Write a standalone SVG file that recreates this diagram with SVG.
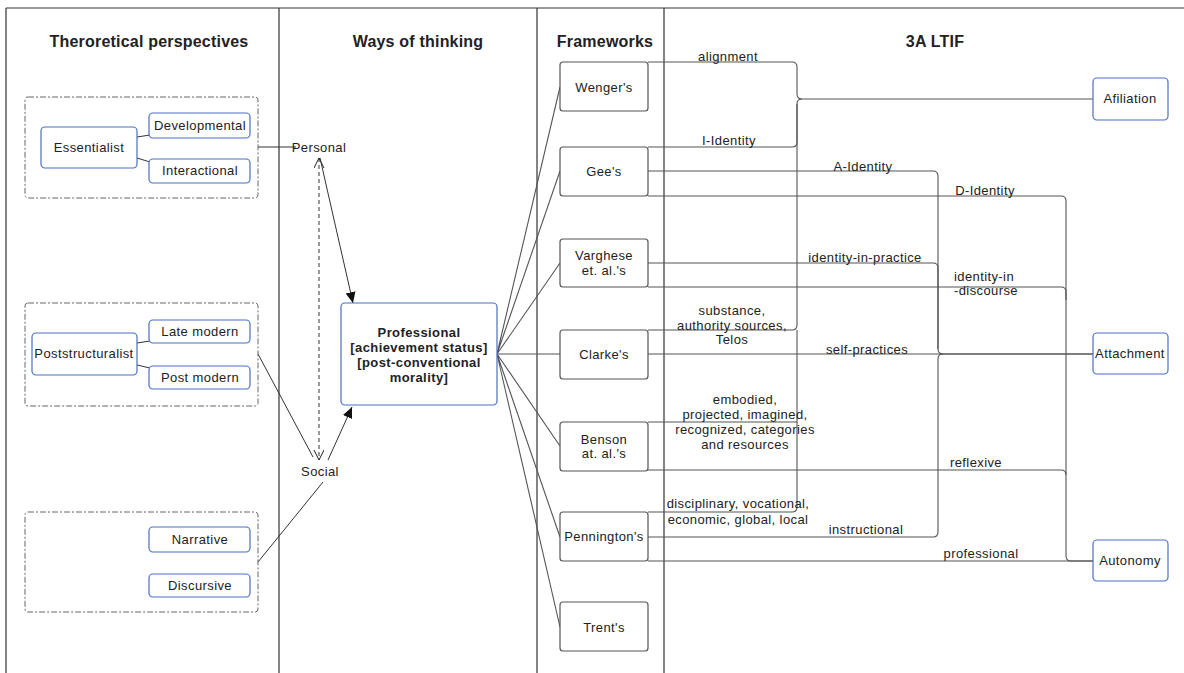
<svg xmlns="http://www.w3.org/2000/svg" width="1184" height="673" viewBox="0 0 1184 673">
<defs>
<style>
text{font-family:"Liberation Sans",Arial,sans-serif;fill:#222;}
.h{font-size:16px;font-weight:bold;text-anchor:middle;letter-spacing:0.2px;}
.n{font-size:13px;text-anchor:middle;letter-spacing:0.4px;}
.l{font-size:13px;text-anchor:middle;letter-spacing:0.4px;}
.b{font-size:13px;font-weight:bold;text-anchor:middle;letter-spacing:0.4px;}
.frame{stroke:#333;stroke-width:1.2;fill:none;}
.blue{fill:#fff;stroke:#4a6fc4;stroke-width:1.2;}
.gray{fill:#fff;stroke:#555;stroke-width:1.2;}
.grp{fill:none;stroke:#666;stroke-width:1;stroke-dasharray:6 2 2 2;}
.c{fill:none;stroke:#333;stroke-width:1;}
.cg{fill:none;stroke:#555;stroke-width:1.1;}
</style>
<marker id="fa" markerWidth="12" markerHeight="12" refX="11" refY="5" orient="auto" markerUnits="userSpaceOnUse"><path d="M0,0 L11,5 L0,10 Z" fill="#111"/></marker>
<marker id="oa" markerWidth="12" markerHeight="12" refX="10" refY="5" orient="auto-start-reverse" markerUnits="userSpaceOnUse"><path d="M0,0 L10,5 L0,10" fill="none" stroke="#222" stroke-width="1"/></marker>
</defs>
<rect width="1184" height="673" fill="#fff"/>

<g id="frame">
<path class="frame" d="M6,8 H1184 M6,8 V673 M279,8 V673 M537,8 V673 M664,8 V673"/>
<text class="h" x="149" y="47">Theroretical perspectives</text>
<text class="h" x="418" y="47">Ways of thinking</text>
<text class="h" x="605" y="47">Frameworks</text>
<text class="h" x="935" y="47">3A LTIF</text>
</g>

<g id="connectors">
<!-- left internal -->
<path class="c" d="M137,137 L150,135 M137,158 L150,162 M137,343 L150,341 M137,365 L150,368"/>
<path class="c" d="M258,147 H296"/>
<path class="c" d="M258,354 L313,457"/>
<path class="c" d="M258,562 L323,482"/>
<path class="c" d="M319,158 V460" stroke-dasharray="4 3" marker-start="url(#oa)" marker-end="url(#oa)"/>
<path class="c" d="M320,158 L353,303" marker-end="url(#fa)"/>
<path class="c" d="M328,460 L352,407" marker-end="url(#fa)"/>
<!-- professional to frameworks -->
<path class="cg" d="M497,354 L560,87 M497,354 L560,171 M497,354 L560,263 M497,354 L560,354 M497,354 L560,446 M497,354 L560,537 M497,354 L560,627"/>
<!-- to Afiliation -->
<path class="cg" d="M648,62 H792 Q797,62 797,67 V94 Q797,99 802,99 H1093"/>
<path class="cg" d="M648,147 H792 Q797,147 797,142 V104 Q797,99 802,99"/>
<path class="cg" d="M648,330 H792 Q797,330 797,325 V104"/>
<path class="cg" d="M648,422 H797 V330"/>
<path class="cg" d="M648,512 H792 Q797,512 797,507 V422"/>
<!-- to Attachment -->
<path class="cg" d="M648,171 H933 Q938,171 938,176 V349 Q938,354 943,354 H1093"/>
<path class="cg" d="M648,263 H933 Q938,263 938,268 V349"/>
<path class="cg" d="M648,354 H1093"/>
<path class="cg" d="M648,537 H933 Q938,537 938,532 V359 Q938,354 943,354"/>
<!-- to Autonomy -->
<path class="cg" d="M648,196 H1061 Q1066,196 1066,201 V556 Q1066,561 1071,561 H1093"/>
<path class="cg" d="M648,287 H1061 Q1066,287 1066,292 V300"/>
<path class="cg" d="M648,470 H1061 Q1066,470 1066,475"/>
<path class="cg" d="M648,561 H1093"/>
<!-- labels -->
<text class="l" x="728" y="61">alignment</text>
<text class="l" x="729" y="145">I-Identity</text>
<text class="l" x="863" y="171">A-Identity</text>
<text class="l" x="985" y="195">D-Identity</text>
<text class="l" x="865" y="262">identity-in-practice</text>
<text class="l" x="984" y="281">identity-in</text>
<text class="l" x="986" y="295">-discourse</text>
<text class="l" x="732" y="315">substance,</text>
<text class="l" x="732" y="330">authority sources,</text>
<text class="l" x="732" y="344">Telos</text>
<text class="l" x="867" y="354">self-practices</text>
<text class="l" x="745" y="404">embodied,</text>
<text class="l" x="745" y="419">projected, imagined,</text>
<text class="l" x="745" y="434">recognized, categories</text>
<text class="l" x="745" y="449">and resources</text>
<text class="l" x="976" y="467">reflexive</text>
<text class="l" x="738" y="508">disciplinary, vocational,</text>
<text class="l" x="738" y="524">economic, global, local</text>
<text class="l" x="866" y="534">instructional</text>
<text class="l" x="981" y="558">professional</text>
</g>

<g id="group-essentialist">
<rect class="grp" x="25" y="97" width="233" height="101" rx="3"/>
</g>
<g id="essentialist"><rect class="blue" x="41" y="127" width="96" height="41" rx="4"/><text class="n" x="89" y="152">Essentialist</text></g>
<g id="developmental"><rect class="blue" x="149" y="113" width="101" height="25" rx="4"/><text class="n" x="200" y="130">Developmental</text></g>
<g id="interactional"><rect class="blue" x="149" y="159" width="101" height="24" rx="4"/><text class="n" x="200" y="175">Interactional</text></g>

<g id="group-poststructuralist">
<rect class="grp" x="25" y="303" width="233" height="103" rx="3"/>
</g>
<g id="poststructuralist"><rect class="blue" x="32" y="333" width="105" height="42" rx="4"/><text class="n" x="84" y="358">Poststructuralist</text></g>
<g id="late-modern"><rect class="blue" x="149" y="320" width="101" height="23" rx="4"/><text class="n" x="200" y="336">Late modern</text></g>
<g id="post-modern"><rect class="blue" x="149" y="366" width="101" height="23" rx="4"/><text class="n" x="200" y="382">Post modern</text></g>

<g id="group-3">
<rect class="grp" x="25" y="512" width="233" height="100" rx="3"/>
</g>
<g id="narrative"><rect class="blue" x="149" y="527" width="101" height="25" rx="4"/><text class="n" x="200" y="544">Narrative</text></g>
<g id="discursive"><rect class="blue" x="149" y="574" width="101" height="23" rx="4"/><text class="n" x="200" y="590">Discursive</text></g>

<g id="personal"><text class="n" x="319" y="152">Personal</text></g>
<g id="social"><text class="n" x="320" y="476">Social</text></g>

<g id="professional">
<rect class="blue" x="341" y="303" width="156" height="102" rx="4"/>
<text class="b" x="419" y="337">Professional</text>
<text class="b" x="419" y="352">[achievement status]</text>
<text class="b" x="419" y="367">[post-conventional</text>
<text class="b" x="419" y="382">morality]</text>
</g>

<g id="wenger"><rect class="gray" x="560" y="62" width="88" height="49" rx="3"/><text class="n" x="604" y="92">Wenger's</text></g>
<g id="gee"><rect class="gray" x="560" y="147" width="88" height="49" rx="3"/><text class="n" x="604" y="176">Gee's</text></g>
<g id="varghese"><rect class="gray" x="560" y="239" width="88" height="48" rx="3"/><text class="n" x="604" y="260">Varghese</text><text class="n" x="604" y="275">et. al.'s</text></g>
<g id="clarke"><rect class="gray" x="560" y="330" width="88" height="49" rx="3"/><text class="n" x="604" y="359">Clarke's</text></g>
<g id="benson"><rect class="gray" x="560" y="422" width="88" height="49" rx="3"/><text class="n" x="604" y="444">Benson</text><text class="n" x="604" y="458">at. al.'s</text></g>
<g id="pennington"><rect class="gray" x="560" y="512" width="88" height="49" rx="3"/><text class="n" x="604" y="541">Pennington's</text></g>
<g id="trent"><rect class="gray" x="560" y="602" width="88" height="49" rx="3"/><text class="n" x="604" y="632">Trent's</text></g>

<g id="afiliation"><rect class="blue" x="1093" y="78" width="75" height="42" rx="4"/><text class="n" x="1130" y="103">Afiliation</text></g>
<g id="attachment"><rect class="blue" x="1093" y="333" width="75" height="41" rx="4"/><text class="n" x="1130" y="358">Attachment</text></g>
<g id="autonomy"><rect class="blue" x="1093" y="540" width="75" height="41" rx="4"/><text class="n" x="1130" y="565">Autonomy</text></g>
</svg>
